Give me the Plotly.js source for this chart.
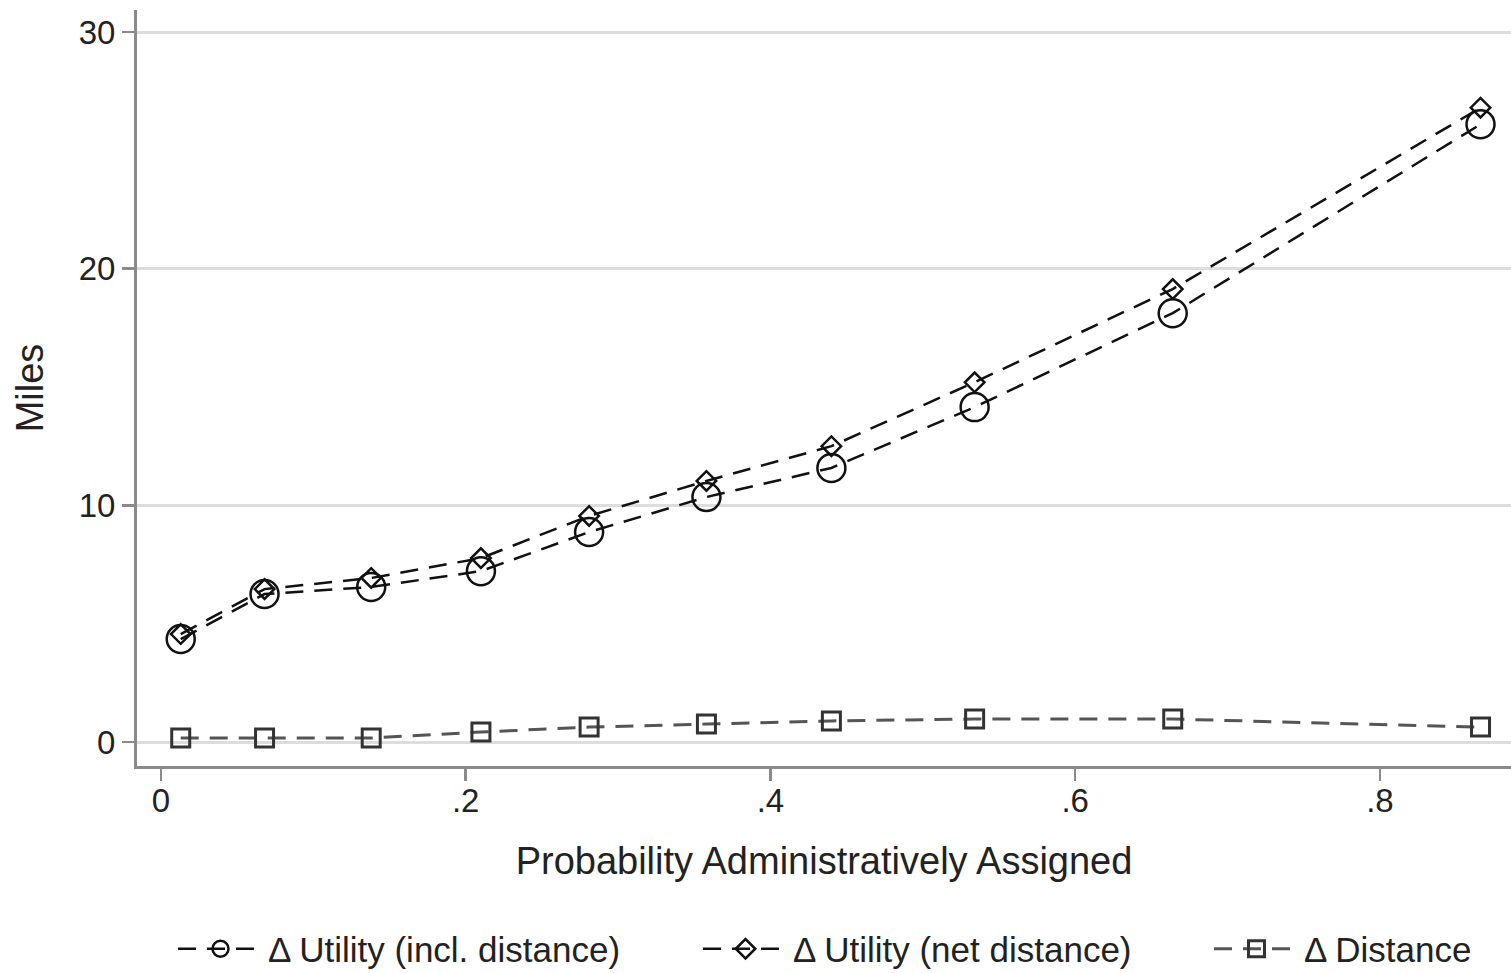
<!DOCTYPE html>
<html>
<head>
<meta charset="utf-8">
<script src="https://cdn.plot.ly/plotly-3.0.1.min.js"></script>
<style>html,body{margin:0;padding:0;background:#fff;}#chart{width:1511px;height:973px;}</style>
</head>
<body>
<div id="chart"></div>
<script>
const probAssigned = [0.013, 0.068, 0.138, 0.210, 0.281, 0.358, 0.440, 0.534, 0.664, 0.866];
const utilityInclDistance = [4.35, 6.25, 6.55, 7.22, 8.87, 10.35, 11.58, 14.15, 18.12, 26.1];
const utilityNetDistance = [4.56, 6.46, 6.93, 7.77, 9.55, 11.03, 12.5, 15.2, 19.14, 26.8];
const distance = [0.17, 0.17, 0.17, 0.42, 0.63, 0.76, 0.89, 0.97, 0.97, 0.63];
const seriesNames = ["Δ Utility (incl. distance)", "Δ Utility (net distance)", "Δ Distance"];
const yTicks = [0, 10, 20, 30];
const yTickLabels = ["0", "10", "20", "30"];
const xTicks = [0, 0.2, 0.4, 0.6, 0.8];
const xTickLabels = ["0", ".2", ".4", ".6", ".8"];

const FONT = "Liberation Sans, Arial, sans-serif";
const dash = "18px,11px";

const traces = [
  {x: probAssigned, y: utilityInclDistance, name: seriesNames[0], type: "scatter", mode: "lines+markers",
   legend: "legend",
   line: {color: "#111", width: 2.5, dash: dash},
   marker: {symbol: "circle-open", size: 28, color: "#111", line: {width: 2.5, color: "#111"}}},
  {x: probAssigned, y: utilityNetDistance, name: seriesNames[1], type: "scatter", mode: "lines+markers",
   legend: "legend2",
   line: {color: "#111", width: 2.5, dash: dash},
   marker: {symbol: "diamond-open", size: 15, color: "#111", line: {width: 2.5, color: "#111"}}},
  {x: probAssigned, y: distance, name: seriesNames[2], type: "scatter", mode: "lines+markers",
   legend: "legend3",
   line: {color: "#555", width: 3, dash: dash},
   marker: {symbol: "square-open", size: 18, color: "#333", line: {width: 3, color: "#333"}}}
];

function leg(xpx) {
  return {orientation: "h", xref: "container", yref: "container",
          x: xpx / 1511, xanchor: "left", y: 1 - 949 / 973, yanchor: "middle",
          font: {family: FONT, size: 35, color: "#222"}, itemwidth: 85,
          bgcolor: "rgba(0,0,0,0)", borderwidth: 0};
}

const layout = {
  width: 1511, height: 973,
  margin: {l: 137, r: 0, t: 10, b: 207},
  paper_bgcolor: "#fff", plot_bgcolor: "#fff",
  font: {family: FONT, size: 33, color: "#222"},
  showlegend: true,
  legend: leg(173),
  legend2: leg(698),
  legend3: leg(1209),
  xaxis: {
    range: [-0.0157, 0.886], tickvals: xTicks, ticktext: xTickLabels,
    showgrid: false, zeroline: false, showline: true, linecolor: "#8a8a8a", linewidth: 3,
    ticks: "outside", ticklen: 12, tickwidth: 2.5, tickcolor: "#8a8a8a",
    tickfont: {family: FONT, size: 33, color: "#222"}, ticklabelstandoff: -9,
    title: {text: "Probability Administratively Assigned", font: {family: FONT, size: 38, color: "#222"}, standoff: 30},
    automargin: false
  },
  yaxis: {
    range: [-1.014, 30.93], tickvals: yTicks, ticktext: yTickLabels,
    showgrid: true, gridcolor: "#dddddd", gridwidth: 3, zeroline: false,
    showline: true, linecolor: "#8a8a8a", linewidth: 3,
    ticks: "outside", ticklen: 12, tickwidth: 2.5, tickcolor: "#8a8a8a",
    tickfont: {family: FONT, size: 33, color: "#222"},
    title: {text: "Miles", font: {family: FONT, size: 38, color: "#222"}, standoff: 24},
    automargin: false
  }
};

Plotly.newPlot("chart", traces, layout, {displayModeBar: false, staticPlot: true});
</script>
</body>
</html>
